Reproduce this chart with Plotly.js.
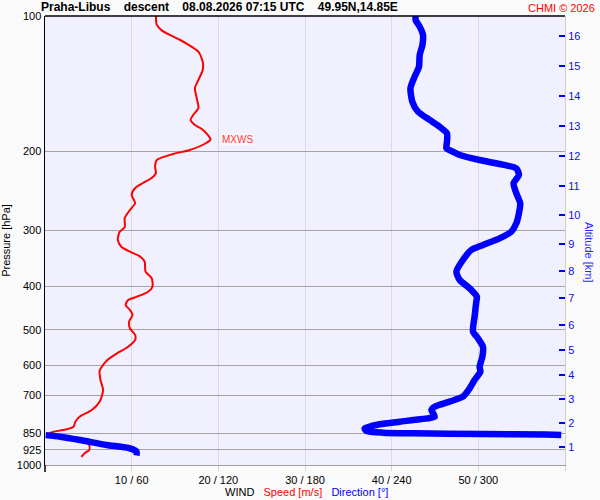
<!DOCTYPE html>
<html>
<head>
<meta charset="utf-8">
<script src="https://cdn.plot.ly/plotly-3.0.1.min.js"></script>
<style>html,body{margin:0;padding:0;background:#fafafa;}#chart{width:600px;height:500px;}</style>
</head>
<body>
<div id="chart"></div>
<script>
// ---- data ----
const speedPressure = [100,104.7,107.8,110.2,113.1,117.0,120.1,126.4,131.9,138.8,144.7,152.3,160.3,166.1,170.4,174.9,178.5,184.1,188.4,191.8,198.8,202.9,209.3,216.6,223.7,229.5,235.5,241.6,250.4,260.9,270.4,281.8,295.1,302.8,315.4,326.5,334.9,343.6,352.5,371.1,383.3,400.8,411.2,421.8,429.0,440.2,451.6,463.3,479.5,496.0,513.4,526.7,545.1,563.9,581.5,598.7,616.5,646.6,680.6,722.7,754.2,780.5,800.8,821.6,835.6,843.0,849.9,857.3,863.1,884.2,902.5,925.9,940.2,959.7];
const speedValues = [12.8,12.9,13.5,14.4,15.6,16.9,17.7,18.2,18.2,17.7,17.3,17.5,17.7,17.1,16.8,17.3,18.1,18.8,19.1,18.6,16.7,14.8,12.9,12.7,12.8,12.3,11.3,10.4,10.0,10.4,9.8,9.2,9.2,8.6,8.4,8.8,9.8,11.0,11.5,11.6,12.3,12.4,11.9,10.6,9.6,9.3,9.8,10.1,9.7,9.8,10.4,10.4,9.6,8.3,7.3,6.7,6.3,6.4,6.7,6.3,5.4,4.0,3.5,3.3,2.1,1.0,0.5,1.2,2.1,4.6,5.1,5.1,4.6,4.2];

const dirPressure = [100,102.1,105.6,110.2,116.0,122.1,129.7,136.5,144.9,155.2,163.3,170.4,176.4,182.5,190.5,197.1,200.6,204.0,209.3,213.6,218.4,226.0,235.9,248.3,261.3,275.1,289.5,302.3,312.7,323.6,332.0,349.5,371.1,387.2,404.1,421.8,432.8,467.4,504.8,522.1,545.1,573.8,604.0,619.7,646.6,674.7,704.4,722.7,741.5,754.2,780.5,791.0,800.8,811.5,828.4,839.9,847.3,849.9,853.0,855.5,857.0,858.0,864.9,879.6,902.5,917.9,933.9,952.4];
const dirValues = [256.6,256.6,259.4,261.7,261.3,259.4,258.9,255.9,253.0,254.3,258.2,266.3,273.2,278.3,278.3,277.9,282.4,287.1,300.9,314.7,326.3,328.1,324.4,326.3,329.0,328.1,326.3,322.8,314.7,303.2,295.1,289.3,284.8,287.1,294.0,299.0,298.6,297.4,296.3,299.7,303.2,302.8,300.9,301.4,297.4,294.0,289.3,280.1,269.8,267.5,269.8,259.4,245.6,231.7,221.3,222.5,234.0,254.8,303.2,347.0,357.4,0.5,10.4,24.2,42.7,58.8,63.4,63.4];

const altitudeKm = [1,2,3,4,5,6,7,8,9,10,11,12,13,14,15,16];
const altitudePressure = [911.8,806.2,712.8,630.3,554.4,487.7,424.7,369.8,322.0,277.5,239.1,205.0,175.8,150.7,129.2,110.8];

const pressureTicks = [100,200,300,400,500,600,700,850,925,1000];
const windTickSpeeds = [10,20,30,40,50,60];
const windTickLabels = ['10 / 60','20 / 120','30 / 180','40 / 240','50 / 300',''];

const mxwsSpeed = 19.1;
const mxwsPressure = 188.4;

const SP = '\u00a0\u00a0\u00a0\u00a0';
const titleText = 'Praha-Libus' + SP + 'descent' + SP + '08.08.2026 07:15 UTC' + SP + '49.95N,14.85E';

// ---- build direction line with breaks where it wraps through north ----
const dirX = [], dirY = [];
for (let i = 0; i < dirValues.length; i++) {
  if (i > 0 && Math.abs(dirValues[i] - dirValues[i-1]) > 180) { dirX.push(null); dirY.push(null); }
  dirX.push(dirValues[i]); dirY.push(dirPressure[i]);
}

const FONT = 'Liberation Sans, Arial, sans-serif';
const RED = '#ff0000', BLUE = '#0000ff';

const L = 45, R = 35, T = 16, B = 35, W = 600, H = 500;
const pw = W - L - R, ph = H - T - B;
const px2paperX = x => (x - L) / pw;
const px2paperY = y => (H - B - y) / ph;

const traces = [
  {x: speedValues, y: speedPressure, type: 'scatter', mode: 'lines',
   line: {color: RED, width: 2, shape: 'spline', smoothing: 0.7}, xaxis: 'x', yaxis: 'y', hoverinfo: 'skip'},
  {x: dirX, y: dirY, type: 'scatter', mode: 'lines', connectgaps: false,
   line: {color: BLUE, width: 6.5, shape: 'spline', smoothing: 0.6}, xaxis: 'x2', yaxis: 'y2', hoverinfo: 'skip'}
];

const logRange = [Math.log10(1000), Math.log10(100)];
const lm = Math.log10(mxwsPressure);

const layout = {
  width: W, height: H,
  margin: {l: L, r: R, t: T, b: B, pad: 0},
  paper_bgcolor: '#fafafa',
  plot_bgcolor: '#f0f0fe',
  showlegend: false,
  font: {family: FONT, size: 11, color: '#000'},
  title: {text: '<b>' + titleText + '</b>', x: 41 / W, xref: 'container', xanchor: 'left',
          y: 1 - 6.5 / H, yref: 'container', yanchor: 'middle',
          font: {family: FONT, size: 12, color: '#000'}},
  xaxis: {range: [0, 60], tickvals: windTickSpeeds, ticktext: windTickLabels,
          showgrid: true, gridcolor: '#dadada', gridwidth: 1, zeroline: false,
          ticks: 'outside', ticklen: 5, tickcolor: '#d0d0d0',
          showline: true, linecolor: '#a0a0a0', linewidth: 1,
          tickfont: {family: FONT, size: 11, color: '#000'}, fixedrange: true},
  xaxis2: {range: [0, 360], overlaying: 'x', anchor: 'y2', visible: false, fixedrange: true},
  yaxis: {type: 'log', range: logRange, tickvals: pressureTicks, ticktext: pressureTicks.map(String),
          showgrid: true, gridcolor: '#a4a4a4', gridwidth: 1, zeroline: false,
          ticks: '', showline: true, linecolor: '#000', linewidth: 1.5,
          tickfont: {family: FONT, size: 11, color: '#000'},
          title: {text: 'Pressure [hPa]', font: {family: FONT, size: 11, color: '#000'}, standoff: 8},
          fixedrange: true},
  yaxis2: {type: 'log', range: logRange, overlaying: 'y', side: 'right', anchor: 'x2',
           tickvals: altitudePressure, ticktext: altitudeKm.map(String),
           showgrid: false, zeroline: false, ticks: 'inside', ticklen: 6, tickcolor: BLUE, tickwidth: 1.5,
           showline: true, linecolor: '#cfcfcf', linewidth: 1,
           tickfont: {family: FONT, size: 11, color: '#1010e0'}, fixedrange: true},
  shapes: [
    {type: 'line', xref: 'paper', yref: 'paper', x0: 0, x1: 1, y0: 1, y1: 1, line: {color: '#000', width: 1.5}},
    {type: 'line', xref: 'paper', yref: 'paper', x0: 0, x1: 0, y0: 0, y1: px2paperY(472), line: {color: '#000', width: 1.5}},
    {type: 'line', xref: 'paper', yref: 'y', x0: px2paperX(40), x1: px2paperX(56), y0: lm, y1: lm, line: {color: RED, width: 1}},
    {type: 'line', xref: 'paper', yref: 'y', x0: px2paperX(554), x1: px2paperX(569), y0: lm, y1: lm, line: {color: RED, width: 1}},
    {type: 'line', xref: 'x', yref: 'y', x0: mxwsSpeed - 1.0, x1: mxwsSpeed + 0.9, y0: lm, y1: lm, line: {color: RED, width: 1}}
  ],
  annotations: [
    {text: 'CHMI © 2026', xref: 'paper', yref: 'paper', x: px2paperX(597), y: px2paperY(8),
     xanchor: 'right', yanchor: 'middle', showarrow: false, font: {family: FONT, size: 11, color: RED}},
    {text: 'MXWS', xref: 'x', yref: 'y', x: mxwsSpeed + 1.2, y: lm, xanchor: 'left', yanchor: 'middle',
     showarrow: false, bgcolor: '#f8f8fc', borderpad: 0, font: {family: FONT, size: 10, color: '#ff3a3a'}},
    {text: 'Altitude [km]', xref: 'paper', yref: 'paper', x: px2paperX(589), y: px2paperY(252),
     xanchor: 'center', yanchor: 'middle', textangle: 90, showarrow: false,
     font: {family: FONT, size: 11, color: '#2a2aff'}},
    {text: 'WIND\u00a0\u00a0\u00a0<span style="color:#ff0000">Speed [m/s]</span>\u00a0\u00a0\u00a0<span style="color:#0000ff">Direction [°]</span>',
     xref: 'paper', yref: 'paper', x: px2paperX(306), y: px2paperY(492), xanchor: 'center', yanchor: 'middle',
     showarrow: false, font: {family: FONT, size: 11, color: '#000'}}
  ]
};

Plotly.newPlot('chart', traces, layout, {staticPlot: true, displayModeBar: false});
</script>
</body>
</html>
